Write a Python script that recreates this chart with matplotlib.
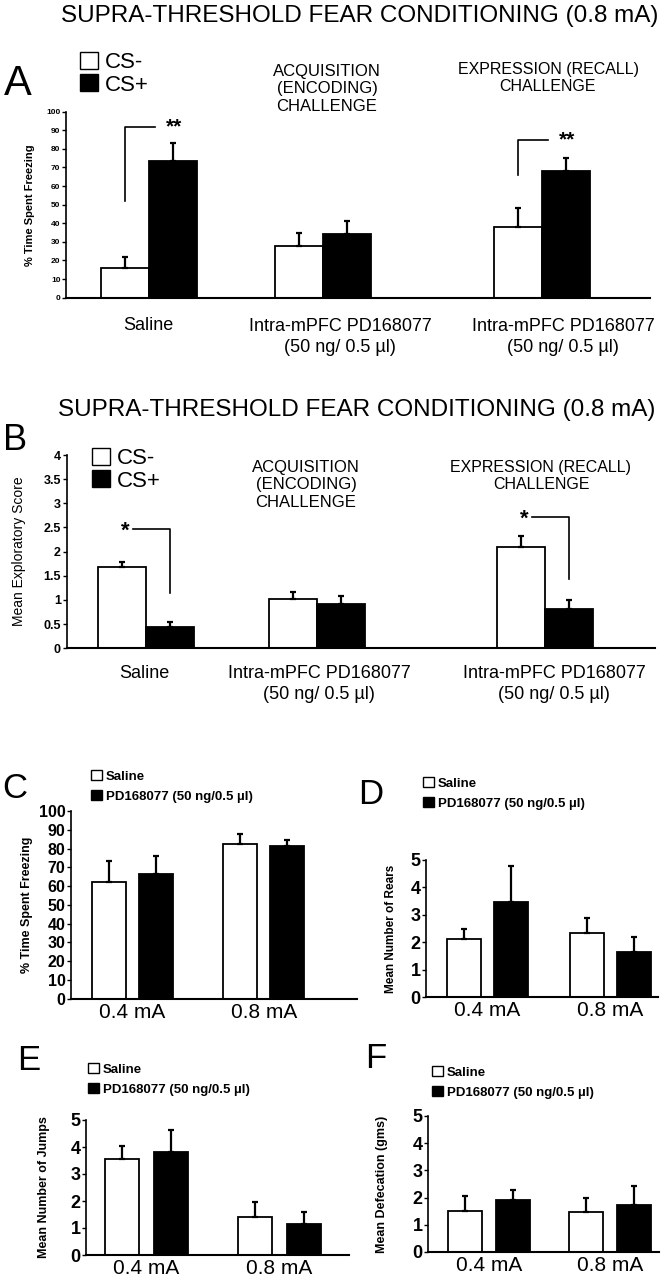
import matplotlib
matplotlib.use("Agg")
import matplotlib.pyplot as plt
from matplotlib.patches import Patch

plt.rcParams["font.family"] = ["Liberation Sans", "DejaVu Sans"]

W, H = 661, 1280

# ---------------- data ----------------
# Panel A: % time spent freezing (supra-threshold, 0.8 mA)
a_cs_minus = [16.0, 28.0, 38.2]
a_cs_minus_sem = [5.8, 6.8, 10.2]
a_cs_plus = [73.6, 34.2, 68.1]
a_cs_plus_sem = [9.7, 7.2, 7.2]

# Panel B: mean exploratory score
b_cs_minus = [1.69, 1.03, 2.09]
b_cs_minus_sem = [0.09, 0.13, 0.24]
b_cs_plus = [0.45, 0.91, 0.82]
b_cs_plus_sem = [0.10, 0.18, 0.18]

ab_groups = ["Saline", "Intra-mPFC PD168077\n(50 ng/ 0.5 \u00b5l)", "Intra-mPFC PD168077\n(50 ng/ 0.5 \u00b5l)"]

# Panels C-F: saline vs PD168077 at two shock intensities
shock = ["0.4 mA", "0.8 mA"]
c_saline, c_saline_sem = [62.4, 82.5], [10.7, 5.0]
c_pd, c_pd_sem = [66.3, 81.6], [9.5, 3.2]
d_saline, d_saline_sem = [2.13, 2.32], [0.37, 0.56]
d_pd, d_pd_sem = [3.45, 1.63], [1.32, 0.55]
e_saline, e_saline_sem = [3.57, 1.42], [0.48, 0.56]
e_pd, e_pd_sem = [3.83, 1.16], [0.81, 0.44]
f_saline, f_saline_sem = [1.49, 1.47], [0.58, 0.53]
f_pd, f_pd_sem = [1.91, 1.74], [0.38, 0.67]

fig = plt.figure(figsize=(W / 100, H / 100), dpi=100)


def px_axes(left, top, right, bottom):
    return fig.add_axes([left / W, 1 - bottom / H, (right - left) / W, (bottom - top) / H])


def ftext(x, y, s, **kw):
    kw.setdefault("ha", "center")
    kw.setdefault("va", "center")
    fig.text(x / W, 1 - y / H, s, **kw)


def bars(ax, x, vals, sem, color, width):
    ax.bar(x, vals, width, color=color, edgecolor="black", linewidth=1.3, zorder=2)
    ax.errorbar(x, vals, yerr=[[0] * len(vals), sem], fmt="none", ecolor="black",
                elinewidth=1.6, capsize=2.5, capthick=1.6, zorder=3)


def style(ax, ymax, ticks, tick_size, labels=None):
    for s in ["top", "right"]:
        ax.spines[s].set_visible(False)
    ax.spines["left"].set_linewidth(1.2)
    ax.spines["bottom"].set_linewidth(1.5)
    ax.set_ylim(0, ymax)
    ax.set_yticks(ticks)
    if labels is not None:
        ax.set_yticklabels(labels)
    ax.tick_params(axis="y", direction="out", length=3, width=1, pad=1, labelsize=tick_size)
    ax.tick_params(axis="x", length=0)
    for t in ax.get_yticklabels():
        t.set_fontweight("bold")


def legend(labels, x, y, size, box, gap, weight="normal"):
    handles = [Patch(facecolor="white", edgecolor="black", linewidth=1),
               Patch(facecolor="black", edgecolor="black", linewidth=1)]
    fig.legend(handles, labels, loc="upper left", bbox_to_anchor=(x / W, 1 - y / H),
               frameon=False, handlelength=box, handleheight=box,
               handletextpad=0.3, labelspacing=gap, borderpad=0, borderaxespad=0,
               prop={"size": size, "weight": weight})


width_ab = 48
title = "SUPRA-THRESHOLD FEAR CONDITIONING (0.8 mA)"

# ---------------- Panel A ----------------
axA = px_axes(66, 111.7, 650, 297.7)
xa = [83, 257, 476]
xa_m = [x - width_ab / 2 for x in xa]
xa_p = [x + width_ab / 2 for x in xa]
bars(axA, xa_m, a_cs_minus, a_cs_minus_sem, "white", width_ab)
bars(axA, xa_p, a_cs_plus, a_cs_plus_sem, "black", width_ab)
axA.set_xlim(0, 584)
axA.set_xticks([])
style(axA, 100, range(0, 101, 10), 6)
axA.set_ylabel("% Time Spent Freezing", fontsize=8, fontweight="bold")
axA.yaxis.set_label_coords((35 - 66) / 584, 0.5)
# significance brackets
for x0, ylo, yhi in [(xa_m[0], 52, 92), (xa_m[2], 66, 85)]:
    axA.plot([x0, x0, x0 + 30], [ylo, yhi, yhi], color="black", lw=1.2)
    axA.text(x0 + 49, yhi, "**", ha="center", va="center", fontsize=15, fontweight="bold")

ftext(360, 16, title, fontsize=17.5)
ftext(18, 84, "A", fontsize=30)
legend(["CS-", "CS+"], 80, 52, 16, 0.8, 0.05)
ftext(327, 89, "ACQUISITION\n(ENCODING)\nCHALLENGE", fontsize=12, linespacing=1.2)
ftext(548, 78, "EXPRESSION (RECALL)\nCHALLENGE", fontsize=11.5, linespacing=1.2)
for x, lab in zip([148, 340, 563], ab_groups):
    ftext(x, 337 if "\n" in lab else 325, lab, fontsize=13, linespacing=1.35)

# ---------------- Panel B ----------------
axB = px_axes(66.5, 455, 655, 648.3)
xb = [79.5, 250.5, 478.5]
xb_m = [x - width_ab / 2 for x in xb]
xb_p = [x + width_ab / 2 for x in xb]
bars(axB, xb_m, b_cs_minus, b_cs_minus_sem, "white", width_ab)
bars(axB, xb_p, b_cs_plus, b_cs_plus_sem, "black", width_ab)
axB.set_xlim(0, 588.5)
axB.set_xticks([])
style(axB, 4, [0, 0.5, 1, 1.5, 2, 2.5, 3, 3.5, 4], 9,
      ["0", "0.5", "1", "1.5", "2", "2.5", "3", "3.5", "4"])
axB.set_ylabel("Mean Exploratory Score", fontsize=10)
axB.yaxis.set_label_coords((26 - 66.5) / 588.5, 0.5)
for x1, ylo, yhi in [(xb_p[0], 1.15, 2.47), (xb_p[2], 1.43, 2.72)]:
    axB.plot([x1 - 37, x1, x1], [yhi, yhi, ylo], color="black", lw=1.2)
    axB.text(x1 - 45, yhi - 0.05, "*", ha="center", va="center", fontsize=16, fontweight="bold")

ftext(357, 410, title, fontsize=17.5)
ftext(15, 440, "B", fontsize=26)
legend(["CS-", "CS+"], 92, 448, 16, 0.8, 0.05)
ftext(306, 485, "ACQUISITION\n(ENCODING)\nCHALLENGE", fontsize=12, linespacing=1.2)
ftext(541, 476, "EXPRESSION (RECALL)\nCHALLENGE", fontsize=11.5, linespacing=1.2)
for x, lab in zip([144, 319, 554], ab_groups):
    ftext(x, 684 if "\n" in lab else 674, lab, fontsize=13, linespacing=1.35)


# ---------------- Panels C-F ----------------
def small_panel(box, xlim, centers, off, sal, sal_sem, pd, pd_sem, ymax, ticks, tsize,
                ylab, ylab_size, ylab_x, letter, leg_xy):
    ax = px_axes(*box)
    w = 34
    bars(ax, [c - off for c in centers], sal, sal_sem, "white", w)
    bars(ax, [c + off for c in centers], pd, pd_sem, "black", w)
    ax.set_xlim(0, xlim)
    ax.set_xticks(centers)
    ax.set_xticklabels(shock, fontsize=15)
    ax.tick_params(axis="x", pad=3)
    style(ax, ymax, ticks, tsize)
    ax.set_ylabel(ylab, fontsize=ylab_size, fontweight="bold")
    ax.yaxis.set_label_coords((ylab_x - box[0]) / (box[2] - box[0]), 0.5)
    ftext(letter[1], letter[2], letter[0], fontsize=25)
    legend(["Saline", "PD168077 (50 ng/0.5 \u00b5l)"], leg_xy[0], leg_xy[1], 9.5, 0.8, 0.55, "bold")
    return ax


small_panel((71, 811, 357, 998.7), 286, [61, 193], 23.5, c_saline, c_saline_sem, c_pd, c_pd_sem,
            100, range(0, 101, 10), 11.5, "% Time Spent Freezing", 9, 33, ("C", 15, 789), (91, 770))
small_panel((426, 860, 658, 997), 232, [61, 184], 23.5, d_saline, d_saline_sem, d_pd, d_pd_sem,
            5, range(0, 6), 13, "Mean Number of Rears", 8.5, 397, ("D", 371, 795), (423, 777))
small_panel((86, 1120, 349, 1255), 263, [60, 193], 24.5, e_saline, e_saline_sem, e_pd, e_pd_sem,
            5, range(0, 6), 13, "Mean Number of Jumps", 9, 50, ("E", 29, 1061), (88, 1063))
small_panel((428, 1116, 659, 1252), 231, [61, 182], 24, f_saline, f_saline_sem, f_pd, f_pd_sem,
            5, range(0, 6), 13, "Mean Defecation (gms)", 9, 388, ("F", 376, 1058), (432, 1066))

fig.savefig("out.png", dpi=100)
